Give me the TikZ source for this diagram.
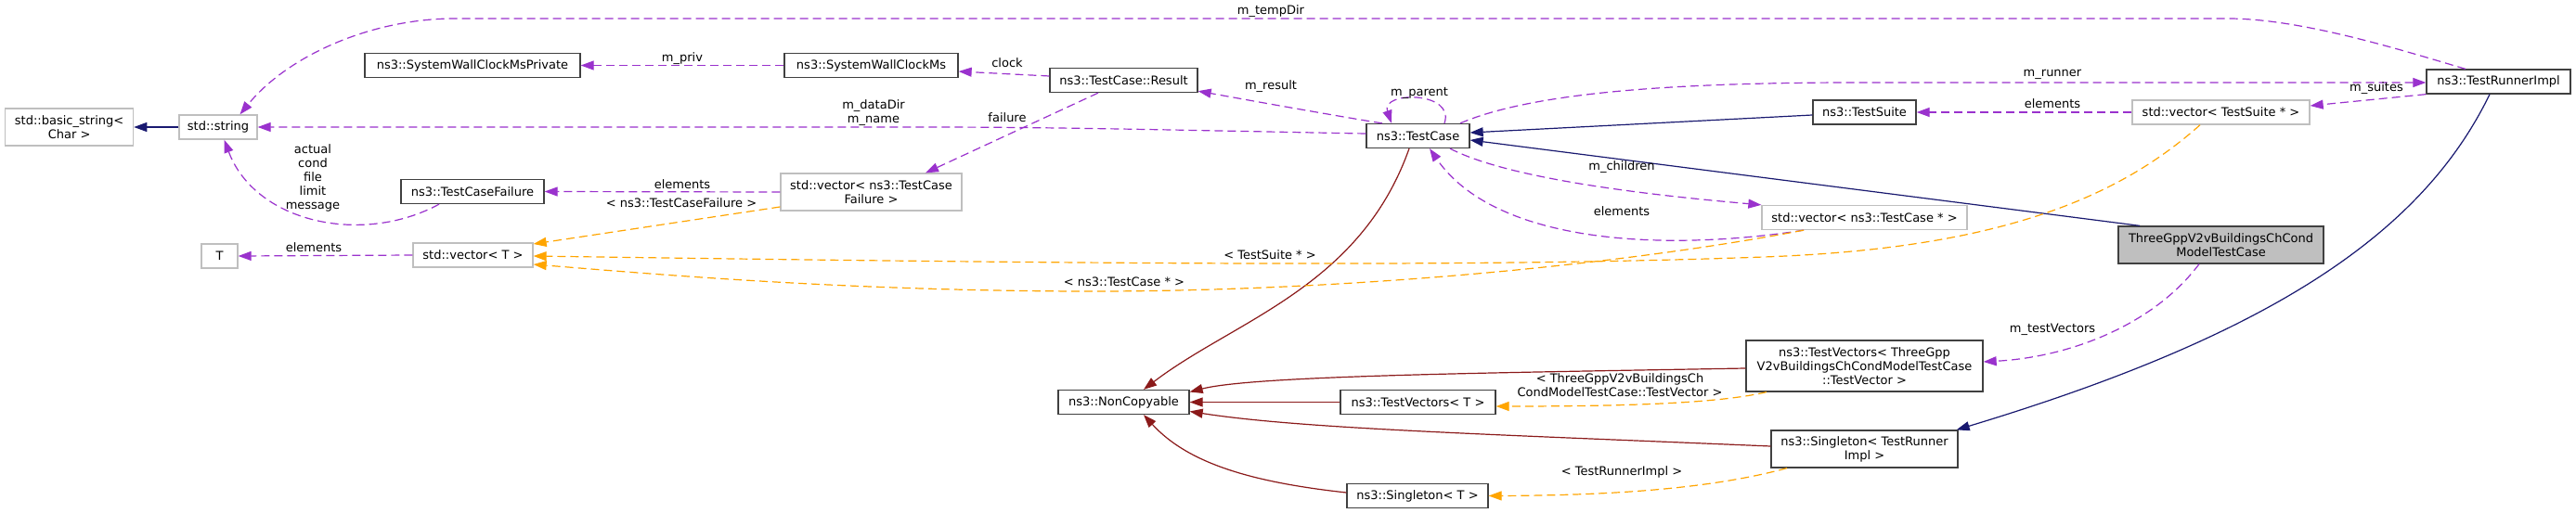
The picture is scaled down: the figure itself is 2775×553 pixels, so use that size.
\documentclass[tikz,border=0pt]{standalone}
\usepackage{fontspec}
\setmainfont{DejaVu Sans}
\usetikzlibrary{arrows.meta,calc}
\definecolor{cpurple}{HTML}{9A32CD}
\definecolor{corange}{HTML}{FFA500}
\definecolor{cnavy}{HTML}{191970}
\definecolor{cred}{HTML}{8B1A1A}
\definecolor{cgrey}{HTML}{BFBFBF}
\definecolor{cdark}{HTML}{404040}
\begin{document}
\begin{tikzpicture}[x=1pt,y=-1pt,
  txt/.style={font=\fontsize{13}{15}\selectfont},
  box/.style={txt,draw=cdark,fill=white,line width=1.3pt,inner sep=0pt,align=center},
  ext/.style={box,draw=cgrey},
  focus/.style={box,fill=cgrey},
  lbl/.style={txt,inner sep=0pt,align=center},
  tip/.style={-{Triangle[length=14pt,width=10pt]}},
  usage/.style={tip,cpurple,line width=1.2pt,dash pattern=on 9pt off 5pt},
  tmpl/.style={tip,corange,line width=1.2pt,dash pattern=on 9pt off 5pt},
  inh/.style={tip,cnavy,line width=1.2pt},
  prv/.style={tip,cred,line width=1.2pt}]
\useasboundingbox (0,0) rectangle (2775,553);
\fill[white] (0,0) rectangle (2775,553);

% nodes
\node[ext,minimum width=138pt,minimum height=40pt] (basic) at (74.6,137) {std::basic\_string<\\Char >};
\node[ext,minimum width=84pt,minimum height=26pt] (string) at (235,137) {std::string};
\node[box,minimum width=232pt,minimum height=26pt] (swcmp) at (509,70.5) {ns3::SystemWallClockMsPrivate};
\node[box,minimum width=187pt,minimum height=26pt] (swcm) at (938.5,70.5) {ns3::SystemWallClockMs};
\node[box,minimum width=159pt,minimum height=26pt] (result) at (1210.5,86.5) {ns3::TestCase::Result};
\node[box,minimum width=154pt,minimum height=26pt] (tcf) at (509,206.5) {ns3::TestCaseFailure};
\node[ext,minimum width=195pt,minimum height=40pt] (vtcf) at (938.5,207) {std::vector< ns3::TestCase\\Failure >};
\node[ext,minimum width=39pt,minimum height=26pt] (T) at (236.5,276) {T};
\node[ext,minimum width=129pt,minimum height=26pt] (vT) at (509.5,275) {std::vector< T >};
\node[box,minimum width=141pt,minimum height=26pt] (nc) at (1210.5,433.5) {ns3::NonCopyable};
\node[box,minimum width=111pt,minimum height=26pt] (tc) at (1527.5,146.5) {ns3::TestCase};
\node[box,minimum width=111pt,minimum height=26pt] (ts) at (2008.5,121) {ns3::TestSuite};
\node[ext,minimum width=221pt,minimum height=26pt] (vtc) at (2008.5,234.5) {std::vector< ns3::TestCase * >};
\node[box,minimum width=167pt,minimum height=26pt] (tvT) at (1527.5,433.5) {ns3::TestVectors< T >};
\node[box,minimum width=255pt,minimum height=55pt] (tvG) at (2008.5,394.5) {ns3::TestVectors< ThreeGpp\\V2vBuildingsChCondModelTestCase\\::TestVector >};
\node[box,minimum width=152pt,minimum height=26pt] (sgT) at (1527,534.5) {ns3::Singleton< T >};
\node[box,minimum width=201pt,minimum height=40pt] (sgR) at (2008.5,484) {ns3::Singleton< TestRunner\\Impl >};
\node[ext,minimum width=191pt,minimum height=26pt] (vts) at (2392.5,121) {std::vector< TestSuite * >};
\node[box,minimum width=155pt,minimum height=26pt] (tri) at (2691.5,88) {ns3::TestRunnerImpl};
\node[focus,minimum width=221pt,minimum height=40pt] (focus) at (2392.5,264) {ThreeGppV2vBuildingsChCond\\ModelTestCase};

% inheritance (navy)
\draw[inh] (string.west) -- (basic.east);
\draw[inh] ($(ts.west)+(0,3)$) -- ($(tc.east)+(0,-3.5)$);
\draw[inh] ($(focus.north)+(-87.5,0)$) -- ($(tc.east)+(0,4.5)$);
\draw[inh] ($(tri.south)+(-9.5,0)$) .. controls (2610,250) and (2450,360) .. ($(sgR.north east)+(-2,0)$);

% private inheritance (dark red)
\draw[prv] ($(tc.south)+(-9.5,0)$) .. controls (1465,310) and (1330,345) .. ($(nc.north)+(21.5,0)$);
\draw[prv] ($(tvG.west)+(0,2.5)$) .. controls (1600,402) and (1350,405) .. ($(nc.east)+(0,-11)$);
\draw[prv] (tvT.west) -- (nc.east);
\draw[prv] ($(sgR.west)+(0,-3)$) .. controls (1600,468) and (1400,462) .. ($(nc.east)+(0,10)$);
\draw[prv] ($(sgT.west)+(0,-3.5)$) .. controls (1350,520) and (1280,500) .. ($(nc.south)+(21.5,0)$);

% usage (purple dashed)
\draw[usage] ($(tri.north)+(-35.5,0)$) .. controls (2590,55) and (2480,20) .. (2400,20) -- (490,20) .. controls (400,20) and (310,60) .. ($(string.north)+(23.5,0)$);
\node[lbl] (lTemp) at (1369,12) {m\_tempDir};
\draw[usage] (swcm.west) -- (swcmp.east);
\node[lbl] (lPriv) at (735,63) {m\_priv};
\draw[usage] ($(result.west)+(0,-4.5)$) -- ($(swcm.east)+(0,6.5)$);
\node[lbl] (lClock) at (1085,68) {clock};
\draw[usage] ($(tc.north)+(-38.5,0)$) .. controls (1470,130) and (1400,118) .. ($(result.south east)+(0,-2)$);
\node[lbl] (lResult) at (1369,93) {m\_result};
\draw[usage] ($(tc.west)+(0,-2.5)$) .. controls (1300,141) and (1150,137) .. (1000,137) -- (string.east);
\node[lbl] (lData) at (941,122) {m\_dataDir\\m\_name};
\draw[usage] ($(tcf.south)+(-36,0)$) .. controls (390,265) and (275,240) .. ($(string.south)+(6.5,0)$);
\node[lbl] (lAct) at (337,192) {actual\\cond\\file\\limit\\message};
\draw[usage] (vtcf.west) -- (tcf.east);
\node[lbl] (lEl1) at (735,199) {elements};
\draw[usage] ($(result.south)+(-27.5,0)$) -- ($(vtcf.north)+(58.5,0)$);
\node[lbl] (lFail) at (1085,127) {failure};
\draw[usage] (vT.west) -- (T.east);
\node[lbl] (lEl2) at (338,267) {elements};
\draw[usage] ($(tc.north)+(28.5,0)$) .. controls (1568,98) and (1487,98) .. ($(tc.north)+(-28.5,0)$);
\node[lbl] (lParent) at (1529,100) {m\_parent};
\draw[usage] ($(vtc.south)+(-65.5,0)$) .. controls (1790,272) and (1610,262) .. ($(tc.south)+(12.5,0)$);
\node[lbl] (lEl3) at (1747,228) {elements};
\draw[usage] ($(tc.south)+(34.5,0)$) .. controls (1620,190) and (1750,208) .. (vtc.north west);
\node[lbl] (lChild) at (1747,180) {m\_children};
\draw[usage] ($(tc.north)+(45.5,0)$) .. controls (1650,100) and (1800,89) .. (2000,89) -- ($(tri.west)+(0,1)$);
\node[lbl] (lRunner) at (2211,80) {m\_runner};
\draw[usage] (vts.west) -- (ts.east);
\node[lbl] (lEl4) at (2211,112) {elements};
\draw[usage] (tri.south west) -- ($(vts.east)+(0,-7)$);
\node[lbl] (lSuites) at (2560,95) {m\_suites};
\draw[usage] ($(focus.south)+(-23.5,0)$) .. controls (2320,350) and (2230,385) .. ($(tvG.east)+(0,-4.5)$);
\node[lbl] (lTV) at (2211,355) {m\_testVectors};

% template instances (orange dashed)
\draw[tmpl] ($(vtcf.west)+(0,16)$) -- ($(vT.east)+(0,-12)$);
\node[lbl] (lTcf) at (734,219) {< ns3::TestCaseFailure >};
\draw[tmpl] ($(vts.south)+(-22.5,0)$) .. controls (2280,215) and (2150,268) .. (1900,277) .. controls (1600,288) and (1200,285) .. ($(vT.east)+(0,1)$);
\node[lbl] (lTs) at (1368,275) {< TestSuite * >};
\draw[tmpl] ($(vtc.south)+(-65.5,0)$) .. controls (1750,285) and (1450,315) .. (1160,314) .. controls (900,313) and (700,295) .. ($(vT.east)+(0,10)$);
\node[lbl] (lTcp) at (1211,304) {< ns3::TestCase * >};
\draw[tmpl] ($(tvG.south)+(-105.5,0)$) .. controls (1850,435) and (1750,438) .. ($(tvT.east)+(0,4.5)$);
\node[lbl] (lTvG) at (1745,415) {< ThreeGppV2vBuildingsCh\\CondModelTestCase::TestVector >};
\draw[tmpl] ($(sgR.south)+(-83.5,0)$) .. controls (1850,525) and (1750,534) .. (sgT.east);
\node[lbl] (lSg) at (1747,509) {< TestRunnerImpl >};
\end{tikzpicture}
\end{document}
